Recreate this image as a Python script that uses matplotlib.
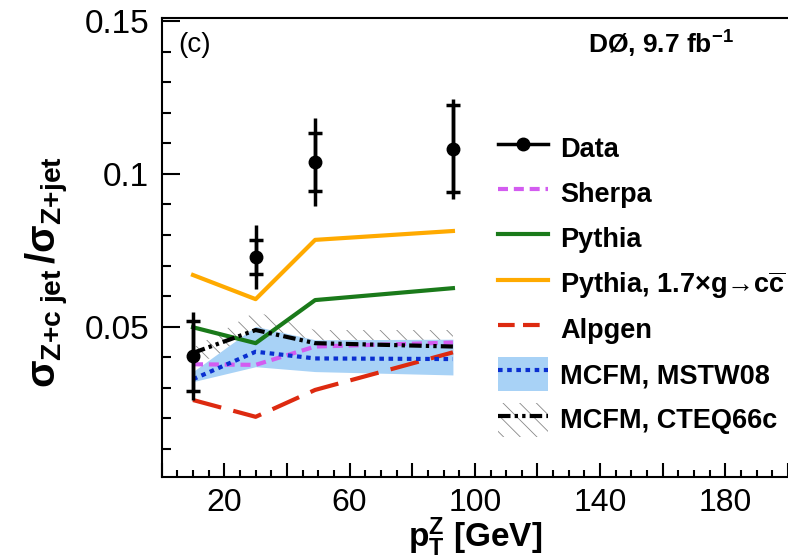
import numpy as np
import matplotlib
matplotlib.use("Agg")
import matplotlib.pyplot as plt
from matplotlib.lines import Line2D
from matplotlib.patches import Patch
from matplotlib.ticker import MultipleLocator, FuncFormatter

plt.rcParams["font.family"] = ["Liberation Sans", "DejaVu Sans"]
plt.rcParams["mathtext.fontset"] = "custom"
plt.rcParams["mathtext.rm"] = "Liberation Sans"
plt.rcParams["mathtext.bf"] = "Liberation Sans:bold"
plt.rcParams["mathtext.it"] = "Liberation Sans:italic"
plt.rcParams["hatch.linewidth"] = 0.6

# data
pt_data = [10, 30, 49, 93]
ratio_data = [0.0404, 0.0727, 0.1039, 0.1082]
err_stat = [0.0116, 0.0055, 0.0095, 0.0142]
err_total = [0.0144, 0.0105, 0.0144, 0.0164]

pt_model = [10, 30, 49, 93]
sherpa = [0.0377, 0.0375, 0.0435, 0.0448]
pythia = [0.0498, 0.0446, 0.0587, 0.0626]
pythia_gcc = [0.0669, 0.0590, 0.0784, 0.0813]
alpgen = [0.0260, 0.0205, 0.0293, 0.0416]
mstw = [0.0328, 0.0418, 0.0396, 0.0394]
mstw_lo = [0.0320, 0.0369, 0.0353, 0.0342]
mstw_hi = [0.0353, 0.0501, 0.0457, 0.0459]
cteq = [0.0414, 0.0489, 0.0446, 0.0435]
cteq_lo = [0.0390, 0.0410, 0.0400, 0.0400]
cteq_hi = [0.0430, 0.0549, 0.0489, 0.0489]

c_sherpa = "#d35cf0"
c_pythia = "#1a7a1a"
c_gcc = "#ffaa00"
c_alpgen = "#dd2a10"
c_mstw = "#0a2fd0"
c_band = "#a8d2f6"

fig = plt.figure(figsize=(7.88, 5.59), dpi=100)
ax = fig.add_axes([0.2052, 0.1472, 0.7948, 0.8206])

# bands
ax.fill_between(pt_model, cteq_lo, cteq_hi, facecolor="none", edgecolor="#888888",
                hatch="\\\\", linewidth=0, zorder=1)
ax.fill_between(pt_model, mstw_lo, mstw_hi, color=c_band, linewidth=0, zorder=2)

lw = 3
ax.plot(pt_model, pythia_gcc, color=c_gcc, lw=lw, zorder=3)
ax.plot(pt_model, pythia, color=c_pythia, lw=lw, zorder=3)
ax.plot(pt_model, alpgen, color=c_alpgen, lw=lw, dashes=(7, 3), zorder=3)
ax.plot(pt_model, sherpa, color=c_sherpa, lw=lw, dashes=(2.4, 1.4), zorder=4)
ax.plot(pt_model, mstw, color=c_mstw, lw=lw, dashes=(1.1, 1.1),
        dash_capstyle="butt", zorder=4)
ax.plot(pt_model, cteq, color="black", lw=lw, dashes=(3, 1, 0.8, 1, 0.8, 1),
        dash_capstyle="butt", zorder=4)

# data: total error as plain bar, stat error marked with crossbars
ax.errorbar(pt_data, ratio_data, yerr=err_total, fmt="none", ecolor="black",
            elinewidth=2.5, capsize=0, zorder=5)
ax.errorbar(pt_data, ratio_data, yerr=err_stat, fmt="o", color="black", ms=9,
            elinewidth=2.5, capsize=5, capthick=2.5, zorder=6)

ax.set_xlim(0, 200)
ax.set_ylim(0.0009, 0.151)

ax.xaxis.set_major_locator(MultipleLocator(20))
ax.xaxis.set_minor_locator(MultipleLocator(5))
ax.xaxis.set_major_formatter(FuncFormatter(
    lambda v, p: f"{v:.0f}" if round(v - 20) % 40 == 0 else ""))
ax.yaxis.set_major_locator(MultipleLocator(0.05))
ax.yaxis.set_minor_locator(MultipleLocator(0.01))
ax.yaxis.set_major_formatter(FuncFormatter(lambda v, p: "" if v < 0.01 else f"{v:g}"))

ax.tick_params(axis="both", which="both", direction="in", width=1.5,
               top=False, right=False)
ax.tick_params(axis="y", which="major", length=13, pad=9, labelsize=24)
ax.tick_params(axis="y", which="minor", length=6.5)
ax.tick_params(axis="x", which="major", length=10, pad=8, labelsize=23)
ax.tick_params(axis="x", which="minor", length=5)
for s in ["left", "bottom", "top"]:
    ax.spines[s].set_linewidth(1.5)
ax.spines["right"].set_visible(False)

ax.set_xlabel(r"$\mathbf{p_T^Z}$ [GeV]", fontsize=24, fontweight="bold")
ax.xaxis.set_label_coords(0.5, -0.085)
ax.set_ylabel(r"$\mathbf{\sigma_{Z{+}c\ jet}\,/\sigma_{Z{+}jet}}$", fontsize=29,
              va="center")
ax.yaxis.set_label_coords(-0.183, 0.446)

ax.text(0.026, 0.941, "(c)", transform=ax.transAxes, fontsize=20,
        ha="left", va="center")
ax.text(0.681, 0.943, r"DØ, 9.7 fb$^{\mathbf{-1}}$", transform=ax.transAxes,
        fontsize=19, fontweight="bold", ha="left", va="center")

handles = [
    Line2D([], [], color="black", lw=2.5, marker="o", ms=9),
    Line2D([], [], color=c_sherpa, lw=lw, dashes=(2.4, 1.4)),
    Line2D([], [], color=c_pythia, lw=lw),
    Line2D([], [], color=c_gcc, lw=lw),
    Line2D([], [], color=c_alpgen, lw=lw, dashes=(4, 2)),
    (Patch(facecolor=c_band, linewidth=0),
     Line2D([], [], color=c_mstw, lw=lw, dashes=(1.1, 1.1), dash_capstyle="butt")),
    (Patch(facecolor="none", edgecolor="#888888", hatch="\\\\", linewidth=0),
     Line2D([], [], color="black", lw=lw, dashes=(3, 1, 0.8, 1, 0.8, 1),
            dash_capstyle="butt")),
]
labels = ["Data", "Sherpa", "Pythia", "Pythia, 1.7×g→c" + r"$\mathbf{\overline{c}}$",
          "Alpgen", "MCFM, MSTW08", "MCFM, CTEQ66c"]
leg = ax.legend(handles, labels, loc="upper left", bbox_to_anchor=(0.632, 0.766),
                bbox_transform=fig.transFigure, frameon=False, borderpad=0,
                borderaxespad=0, handlelength=1.85, handleheight=1.55,
                handletextpad=0.44, labelspacing=0.42,
                prop={"size": 19.5, "weight": "bold"})

fig.savefig("out.png", dpi=100)
